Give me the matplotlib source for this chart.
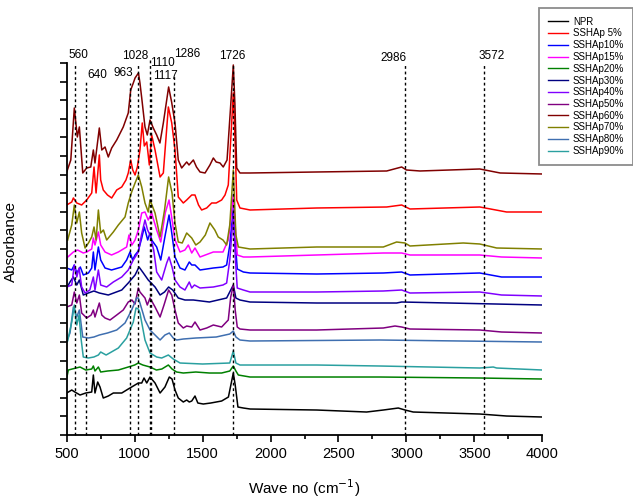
#!/usr/bin/env python3
# -*- coding: utf-8 -*-
"""
Stacked FTIR spectra of NPR and the SSHAp blends, with the main bands marked.
Traces were read off the original figure (absorbance in arbitrary, offset units).
"""

#%%
import numpy as np
import matplotlib
matplotlib.use('Agg')
from matplotlib import pyplot as plt
from matplotlib.lines import Line2D

plt.rcParams['font.family'] = ['Liberation Sans', 'DejaVu Sans']

#%% Spectra: (wave number cm-1, absorbance a.u.)
npr = [(500, 42), (537, 45), (560, 43), (598, 40), (640, 42), (684, 43), (696, 60), (708, 42),
       (728, 53), (745, 48), (769, 37), (806, 39), (843, 42), (905, 42), (953, 46), (990, 49),
       (1027, 52), (1052, 52), (1069, 57), (1089, 52), (1113, 58), (1150, 52), (1187, 42),
       (1223, 48), (1255, 58), (1275, 56), (1297, 45), (1321, 37), (1358, 33), (1383, 35),
       (1402, 33), (1420, 34), (1444, 39), (1465, 32), (1505, 31), (1560, 32), (1640, 34),
       (1690, 38), (1705, 48), (1726, 62), (1740, 50), (1760, 28), (1800, 27), (1850, 26),
       (2340, 25), (2707, 23), (2830, 25), (2940, 27), (2990, 25), (3050, 23), (3540, 21),
       (3737, 19), (4000, 18)]

sshap5 = [(500, 230), (537, 233), (549, 237), (574, 232), (610, 230), (647, 235), (684, 242),
          (701, 268), (716, 242), (740, 280), (750, 255), (769, 245), (800, 240), (831, 237),
          (868, 245), (905, 248), (936, 255), (953, 262), (971, 275), (986, 265), (1003, 260),
          (1020, 268), (1039, 285), (1056, 312), (1071, 289), (1089, 293), (1108, 270),
          (1125, 300), (1150, 285), (1187, 258), (1211, 262), (1248, 328), (1273, 312),
          (1297, 285), (1321, 238), (1358, 232), (1383, 235), (1420, 240), (1444, 240),
          (1470, 230), (1493, 225), (1530, 227), (1567, 232), (1600, 232), (1640, 235),
          (1665, 240), (1689, 250), (1707, 295), (1726, 342), (1740, 290), (1751, 235),
          (1775, 227), (1849, 225), (2340, 227), (2855, 228), (2965, 230), (3026, 226),
          (3540, 228), (3737, 223), (4000, 223)]

sshap10 = [(500, 167), (537, 165), (556, 170), (574, 162), (600, 168), (622, 160), (660, 162),
           (684, 167), (696, 183), (708, 165), (733, 188), (750, 175), (782, 167), (830, 165),
           (905, 168), (941, 175), (966, 183), (985, 175), (1003, 180), (1027, 184), (1052, 197),
           (1071, 208), (1096, 195), (1113, 202), (1125, 195), (1162, 188), (1192, 175),
           (1225, 200), (1253, 220), (1270, 205), (1297, 178), (1334, 167), (1370, 165),
           (1402, 173), (1420, 170), (1444, 170), (1481, 165), (1579, 167), (1650, 168),
           (1677, 170), (1700, 190), (1726, 227), (1742, 190), (1755, 166), (1800, 163),
           (1849, 162), (2340, 161), (2830, 162), (2965, 163), (3026, 160), (3540, 162),
           (3700, 158), (4000, 158)]

sshap15 = [(500, 177), (549, 183), (580, 185), (622, 182), (647, 183), (684, 186), (696, 197),
           (708, 190), (733, 203), (750, 190), (782, 183), (830, 180), (880, 183), (941, 188),
           (958, 200), (980, 190), (1003, 195), (1027, 205), (1052, 222), (1076, 223),
           (1100, 215), (1125, 222), (1162, 205), (1192, 193), (1225, 222), (1253, 235),
           (1270, 220), (1297, 195), (1334, 183), (1370, 185), (1395, 190), (1420, 182),
           (1444, 187), (1481, 178), (1579, 183), (1650, 183), (1689, 195), (1707, 215),
           (1726, 240), (1742, 205), (1755, 180), (1800, 178), (1849, 178), (2340, 180),
           (2830, 182), (2965, 182), (3026, 180), (3540, 180), (3700, 178), (4000, 177)]

sshap20 = [(500, 57), (512, 65), (540, 66), (598, 68), (640, 65), (684, 66), (696, 69), (708, 64),
           (733, 68), (750, 63), (800, 64), (880, 65), (953, 68), (1000, 70), (1027, 72),
           (1060, 70), (1113, 68), (1160, 65), (1200, 66), (1248, 70), (1275, 66), (1309, 63),
           (1358, 62), (1450, 63), (1550, 62), (1640, 62), (1700, 64), (1726, 69), (1745, 64),
           (1763, 60), (1849, 58), (2340, 58), (2805, 58), (3540, 57), (4000, 56)]

sshap30 = [(500, 147), (524, 153), (549, 158), (574, 150), (593, 155), (622, 140), (659, 142),
           (700, 144), (740, 142), (806, 140), (905, 145), (953, 152), (1003, 160), (1032, 168),
           (1064, 162), (1100, 155), (1150, 148), (1187, 140), (1220, 143), (1250, 148),
           (1280, 145), (1321, 137), (1370, 135), (1432, 135), (1550, 133), (1677, 137),
           (1707, 145), (1726, 150), (1745, 137), (1775, 135), (1849, 133), (2340, 132),
           (2928, 132), (2965, 133), (4000, 130)]

sshap40 = [(500, 148), (537, 150), (556, 170), (574, 158), (591, 167), (610, 148), (635, 142),
           (670, 145), (696, 158), (708, 145), (733, 165), (750, 150), (794, 148), (843, 153),
           (905, 158), (953, 165), (990, 175), (1027, 183), (1050, 200), (1076, 215),
           (1095, 205), (1113, 200), (1140, 185), (1162, 163), (1199, 155), (1236, 172),
           (1253, 178), (1275, 168), (1297, 155), (1334, 148), (1370, 145), (1402, 153),
           (1420, 147), (1440, 150), (1481, 147), (1579, 148), (1650, 150), (1677, 152),
           (1700, 175), (1726, 220), (1742, 175), (1755, 147), (1800, 145), (1849, 143),
           (2340, 143), (2830, 144), (2965, 145), (3026, 142), (3540, 143), (3700, 140),
           (4000, 139)]

sshap50 = [(500, 128), (537, 130), (556, 143), (574, 132), (593, 140), (610, 122), (647, 117),
           (680, 120), (696, 125), (708, 118), (740, 132), (758, 120), (782, 117), (819, 115),
           (868, 120), (916, 125), (953, 133), (980, 135), (1003, 131), (1027, 147), (1039, 143),
           (1076, 137), (1093, 130), (1113, 137), (1150, 128), (1187, 118), (1216, 130),
           (1250, 145), (1273, 140), (1297, 125), (1321, 112), (1358, 107), (1383, 109),
           (1420, 108), (1444, 113), (1481, 105), (1530, 107), (1579, 110), (1640, 108),
           (1689, 115), (1707, 138), (1726, 150), (1740, 125), (1755, 108), (1775, 106),
           (1849, 105), (2340, 105), (2830, 107), (2916, 109), (2965, 108), (3026, 106),
           (3540, 105), (3700, 103), (4000, 102)]

sshap60 = [(500, 263), (530, 275), (556, 327), (578, 298), (593, 308), (618, 262), (647, 267),
           (677, 268), (696, 285), (708, 272), (740, 307), (758, 285), (782, 288), (806, 278),
           (831, 287), (868, 295), (916, 308), (953, 322), (971, 345), (990, 352), (1003, 357),
           (1028, 362), (1039, 352), (1052, 337), (1076, 308), (1093, 300), (1113, 315),
           (1137, 307), (1162, 300), (1186, 292), (1211, 312), (1250, 348), (1272, 333),
           (1297, 312), (1321, 275), (1346, 267), (1383, 273), (1400, 270), (1432, 275),
           (1455, 268), (1481, 263), (1518, 262), (1554, 270), (1579, 277), (1600, 273),
           (1628, 272), (1652, 268), (1680, 275), (1707, 330), (1726, 370), (1738, 330),
           (1751, 267), (1775, 262), (1849, 262), (2340, 263), (2855, 264), (2965, 268),
           (3000, 265), (3100, 264), (3540, 266), (3690, 262), (4000, 261)]

sshap70 = [(507, 195), (537, 210), (556, 230), (574, 212), (593, 223), (610, 202), (635, 187),
           (660, 192), (684, 198), (701, 208), (716, 195), (733, 225), (750, 202), (770, 205),
           (794, 195), (843, 203), (880, 210), (929, 218), (953, 232), (978, 243), (1003, 252),
           (1027, 260), (1052, 248), (1076, 232), (1100, 223), (1113, 235), (1150, 222),
           (1187, 198), (1220, 225), (1250, 258), (1275, 242), (1297, 212), (1321, 193),
           (1350, 192), (1383, 202), (1420, 197), (1450, 190), (1481, 193), (1520, 200),
           (1554, 212), (1590, 205), (1615, 198), (1650, 195), (1677, 190), (1700, 210),
           (1726, 265), (1745, 200), (1763, 188), (1849, 186), (2340, 188), (2830, 188),
           (2928, 193), (2989, 192), (3026, 189), (3418, 192), (3540, 191), (3664, 187),
           (4000, 186)]

sshap80 = [(500, 94), (524, 102), (549, 128), (574, 118), (593, 125), (618, 98), (659, 97),
           (700, 98), (740, 100), (800, 102), (868, 105), (929, 112), (978, 125), (1015, 137),
           (1027, 137), (1039, 132), (1076, 115), (1113, 105), (1150, 100), (1187, 95),
           (1223, 100), (1255, 102), (1284, 97), (1309, 95), (1358, 96), (1450, 97), (1600, 98),
           (1700, 101), (1726, 104), (1745, 98), (1775, 95), (1849, 94), (2805, 95), (4000, 93)]

sshap90 = [(500, 93), (507, 94), (537, 113), (556, 130), (574, 110), (591, 120), (605, 97),
           (622, 78), (659, 77), (700, 78), (733, 80), (750, 83), (790, 80), (880, 87), (941, 97),
           (990, 113), (1010, 127), (1027, 126), (1039, 122), (1076, 95), (1113, 82), (1162, 78),
           (1199, 77), (1248, 80), (1284, 76), (1334, 72), (1500, 71), (1700, 72), (1726, 84),
           (1745, 72), (1775, 70), (1849, 70), (2340, 70), (2805, 69), (3540, 67), (3639, 68),
           (3664, 67), (4000, 65)]

labels = ['NPR', 'SSHAp 5%', 'SSHAp10%', 'SSHAp15%', 'SSHAp20%', 'SSHAp30%',
          'SSHAp40%', 'SSHAp50%', 'SSHAp60%', 'SSHAp70%', 'SSHAp80%', 'SSHAp90%']
spectra = [npr, sshap5, sshap10, sshap15, sshap20, sshap30,
           sshap40, sshap50, sshap60, sshap70, sshap80, sshap90]
colors = ['#000000', '#ff0000', '#0000ff', '#ff00ff', '#008000', '#000080',
          '#8000ff', '#800080', '#800000', '#808000', '#3f6fb0', '#2aa0a0']

# marked bands
peaks = [560, 640, 963, 1028, 1110, 1117, 1286, 1726, 2986, 3572]

#%% Plot
fig = plt.figure(figsize=(6.33, 5.01), dpi=100)
ax = fig.add_axes([0.1054, 0.1317, 0.7513, 0.7426])

for spec, lab, col in zip(spectra, labels, colors):
    wn = [p[0] for p in spec]
    ab = [p[1] for p in spec]
    ax.plot(wn, ab, color=col, linewidth=1.1, label=lab)

# dotted band markers: top of line and label placement (wn, y)
line_tops = [370, 353, 352, 372, 377, 355, 360, 372, 370, 372]
label_pos = [(583, 380), (723, 360), (918, 362), (1006, 379), (1205, 372),
             (1223, 359), (1389, 381), (1720, 379), (2908, 377), (3627, 379)]
for pk, top, (lx, ly) in zip(peaks, line_tops, label_pos):
    ax.plot([pk, pk], [0, top], color='black', linewidth=1.0,
            linestyle=(0, (2, 2)), clip_on=False)
    ax.text(lx, ly, str(pk), fontsize=8.5, ha='center', va='center')

ax.set_xlim(500, 4000)
ax.set_ylim(0, 372)
ax.set_xticks(np.arange(500, 4001, 500))
ax.set_xticks(np.arange(750, 4000, 500), minor=True)
ax.set_yticks(np.arange(0, 373, 18.6))
ax.set_yticklabels([])
ax.tick_params(axis='both', direction='out', width=1.2, labelsize=10.5)
ax.tick_params(axis='x', which='major', length=5)
ax.tick_params(axis='x', which='minor', length=3, width=1.2)
ax.tick_params(axis='y', length=5)

for side in ['top', 'right']:
    ax.spines[side].set_visible(False)
for side in ['left', 'bottom']:
    ax.spines[side].set_linewidth(1.3)

ax.set_xlabel('Wave no (cm$^{-1}$)', fontsize=11, labelpad=12)
ax.set_ylabel('Absorbance', fontsize=11)
ax.yaxis.set_label_coords(-0.102, 0.52)

# Legend sits outside the axes in the top right corner
handles = [Line2D([], [], color=c, linewidth=1.0) for c in colors]
leg = fig.legend(handles, labels, loc='upper left',
                 bbox_to_anchor=(539 / 633, 1 - 8 / 501),
                 bbox_transform=fig.transFigure,
                 fontsize=7, frameon=True, fancybox=False,
                 borderpad=0.9, labelspacing=0.18,
                 handlelength=2.1, handletextpad=0.5, borderaxespad=0)
leg.get_frame().set_edgecolor('#707070')
leg.get_frame().set_linewidth(1.3)

plt.savefig('out.png', dpi=100)
